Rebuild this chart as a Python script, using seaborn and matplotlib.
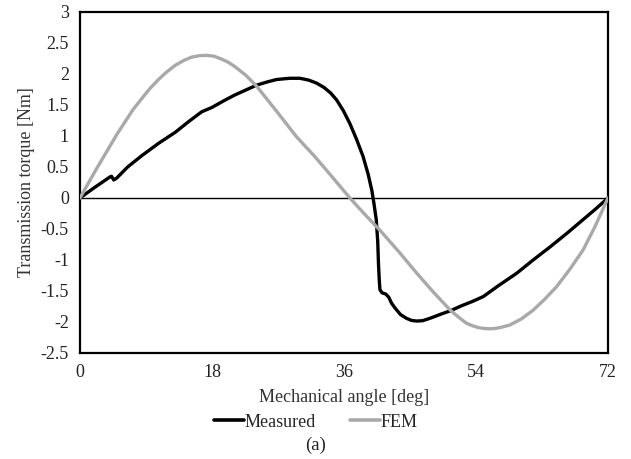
import matplotlib
matplotlib.use("Agg")
import matplotlib.pyplot as plt
import seaborn as sns
import pandas as pd
from matplotlib.lines import Line2D

# ---- data ----
measured_deg = [0, 2, 4.1, 4.3, 4.6, 5.0, 6.5, 8.4, 10.7, 13.0, 14.8, 16.6, 18.0, 19.5, 21.1,
                22.6, 24.1, 25.5, 26.8, 28.6, 30.0, 31.2, 32.3, 33.3, 34.2, 35.0, 35.9,
                36.8, 37.7, 38.6, 39.3, 39.8, 40.1, 40.4, 40.6, 40.7, 40.8, 40.9, 41.2,
                41.7, 42.1, 42.5, 43.0, 43.7, 44.5, 45.2, 45.9, 46.7, 47.5, 48.2, 49.3,
                50.5, 52.0, 53.5, 55.0, 57.0, 59.6, 61.8, 64.1, 66.4, 68.6, 70.3, 72.0]
measured_torque = [0, 0.17, 0.34, 0.35, 0.29, 0.32, 0.50, 0.68, 0.88, 1.06, 1.23, 1.39, 1.46, 1.56, 1.66,
                   1.74, 1.82, 1.87, 1.91, 1.93, 1.93, 1.90, 1.85, 1.78, 1.69, 1.58, 1.41,
                   1.20, 0.95, 0.67, 0.38, 0.12, -0.10, -0.35, -0.70, -1.05, -1.30, -1.48, -1.53,
                   -1.55, -1.60, -1.70, -1.78, -1.88, -1.94, -1.975, -1.985, -1.98, -1.95, -1.92, -1.87,
                   -1.82, -1.74, -1.67, -1.59, -1.42, -1.21, -1.00, -0.79, -0.57, -0.35, -0.18, 0.0]

fem_deg = [0, 1, 2, 3, 4, 5, 6.1, 7.2, 8.4, 9.5, 10.7, 11.8, 13.0, 14.2, 15.2, 16.3, 17.3,
           18.3, 19.3, 20.2, 21.1, 22.6, 24.1, 26.8, 29.5, 32.0, 34.1, 36.8, 38.8, 40.9,
           43.5, 45.9, 48.2, 50.5, 51.7, 52.7, 53.5, 54.3, 55.1, 55.9, 56.6, 57.3, 58.6,
           60.2, 61.8, 63.4, 65.0, 66.8, 68.6, 70.2, 72.0]
fem_torque = [0, 0.21, 0.42, 0.62, 0.82, 1.02, 1.22, 1.42, 1.60, 1.76, 1.91, 2.03, 2.14, 2.22,
              2.27, 2.295, 2.30, 2.285, 2.24, 2.19, 2.12, 1.98, 1.80, 1.40, 0.99, 0.67, 0.38,
              0.0, -0.26, -0.52, -0.87, -1.21, -1.52, -1.81, -1.93, -2.02, -2.06, -2.09, -2.105,
              -2.11, -2.105, -2.09, -2.05, -1.95, -1.81, -1.63, -1.43, -1.15, -0.84, -0.47, 0.0]

series_names = ["Measured", "FEM"]
x_ticks = [0, 18, 36, 54, 72]
y_ticks = [-2.5, -2, -1.5, -1, -0.5, 0, 0.5, 1, 1.5, 2, 2.5, 3]
x_label = "Mechanical angle [deg]"
y_label = "Transmission torque [Nm]"
caption = "(a)"

df = pd.concat([
    pd.DataFrame({"deg": measured_deg, "torque": measured_torque, "series": series_names[0]}),
    pd.DataFrame({"deg": fem_deg, "torque": fem_torque, "series": series_names[1]}),
])

sns.set_theme(style="white")
plt.rcParams["font.family"] = ["Liberation Serif", "DejaVu Serif"]

colors = {"Measured": "#000000", "FEM": "#a9a9a9"}

fig = plt.figure(figsize=(6.31, 4.59), dpi=100)
ax = fig.add_axes([0.1268, 0.231, 0.8367, 0.743])

ax.axhline(0, color="black", lw=1.0, zorder=1)
sns.lineplot(data=df, x="deg", y="torque", hue="series", palette=colors,
             estimator=None, sort=False, lw=2.4, ax=ax, legend=False, zorder=3)

ax.set_xlim(0, 72)
ax.set_ylim(-2.5, 3)
ax.set_xticks(x_ticks)
ax.set_xticklabels([str(v) for v in x_ticks])
ax.set_yticks(y_ticks)
ax.set_yticklabels([f"{v:g}" for v in y_ticks])
ax.tick_params(length=0, labelsize=13, colors="#222222", pad=8)
ax.set_xlabel(x_label, fontsize=13, color="#333333", labelpad=6)
ax.set_ylabel(y_label, fontsize=13, color="#333333", labelpad=4)
for s in ax.spines.values():
    s.set_color("black")
    s.set_linewidth(1.6)

handles = [Line2D([0], [0], color=colors[n], lw=2.6) for n in series_names]
fig.legend(handles, series_names, loc="center", bbox_to_anchor=(0.5, 0.080),
           ncol=2, frameon=False, fontsize=13, handlelength=1.7,
           handletextpad=0.0, columnspacing=1.9)
fig.text(0.5, 0.030, caption, ha="center", va="center", fontsize=13.5, color="#222222")

fig.savefig("out.png", dpi=100)
